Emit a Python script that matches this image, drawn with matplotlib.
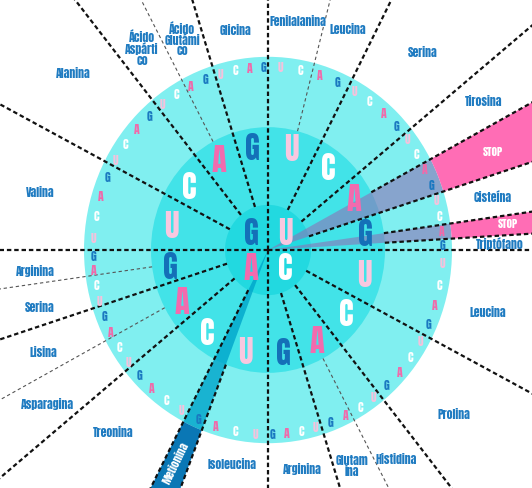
import numpy as np
import matplotlib
matplotlib.use("Agg")
import matplotlib.pyplot as plt
from matplotlib.patches import Circle, Wedge
from matplotlib import font_manager as fm

# ---------------- data ----------------
bases = ["U", "C", "A", "G"]
# amino acid of each codon, ordered first base (U,C,A,G) > second > third
codon_aa = (
    ["Fenilalanina"] * 2 + ["Leucina"] * 2 + ["Serina"] * 4 +
    ["Tirosina"] * 2 + ["STOP"] * 2 + ["Cisteína"] * 2 + ["STOP"] + ["Triptófano"] +
    ["Leucina"] * 4 + ["Prolina"] * 4 + ["Histidina"] * 2 + ["Glutamina"] * 2 + ["Arginina"] * 4 +
    ["Isoleucina"] * 3 + ["Metionina"] + ["Treonina"] * 4 + ["Asparagina"] * 2 + ["Lisina"] * 2 +
    ["Serina"] * 2 + ["Arginina"] * 2 +
    ["Valina"] * 4 + ["Alanina"] * 4 + ["Ácido Aspártico"] * 2 + ["Ácido Glutámico"] * 2 + ["Glicina"] * 4
)
display_names = {
    "Ácido Aspártico": "Ácido\nAspárti\nco",
    "Ácido Glutámico": "Ácido\nGlutámi\nco",
    "Glutamina": "Glutam\nina",
}

# ---------------- layout / style ----------------
W, H = 532, 489
CX, CY = 268, 251          # wheel centre in pixels
K = 1.05                   # vertical stretch of the picture
R_IN, R_MID, R_OUT = 43, 117, 184
R_OUT_TXT, R_MID_TXT, R_IN_TXT = 175, 99, 24

col_outer, col_mid, col_inner = "#80EFF0", "#42E3E8", "#22D9E0"
letter_col_big = {"U": "#F8C8E0", "C": "#FFFFFF", "A": "#F26BAE", "G": "#1470B8"}
letter_col_small = {"U": "#F5C2DC", "C": "#FFFFFF", "A": "#F06AAA", "G": "#1A78C0"}
label_col = "#1F7BC1"

_avail = {f.name for f in fm.fontManager.ttflist}
_cands = ["Anton", "Oswald", "League Gothic", "Fjalla One", "Roboto Condensed",
          "Liberation Sans Narrow"]
_chosen = [c for c in _cands if c in _avail][:1]
FONT = _chosen + ["DejaVu Sans"]
WEIGHT = "normal" if _chosen and _chosen[0] in ("Anton", "League Gothic", "Fjalla One") else "bold"

# label anchor points (pixels), in the order of the amino-acid runs
label_px = [(298, 22), (348, 30), (423, 53), (484, 102), (493, 152), (493, 197),
            (508, 224), (500, 244), (488, 313), (454, 415), (396, 460), (352, 466),
            (302, 469), (232, 465), (176, 463), (113, 433), (47, 404), (43, 353),
            (40, 308), (35, 271), (40, 193), (73, 74), (142, 48), (182, 39), (236, 31)]


def px(x, y):
    return x - CX, (CY - y) / K


def warp(theta, amp):
    """slight clockwise skew of the hand-drawn wheel inside each quadrant"""
    f = (theta % 90) / 90.0
    return theta + amp * np.sin(np.pi * f) ** 0.6


def pol(r, theta):
    t = np.radians(theta)
    return r * np.sin(t), r * np.cos(t)


fig = plt.figure(figsize=(W / 100, H / 100), dpi=100)
ax = fig.add_axes([0, 0, 1, 1])
ax.set_xlim(-CX, W - CX)
ax.set_ylim(-(H - CY) / K, CY / K)
ax.axis("off")

# discs
ax.add_patch(Circle((0, 0), R_OUT, color=col_outer, zorder=1, lw=0))
ax.add_patch(Circle((0, 0), R_MID, color=col_mid, zorder=1, lw=0))
ax.add_patch(Circle((0, 0), R_IN, color=col_inner, zorder=1, lw=0))

step = 360 / len(codon_aa)
AMP = 6.0

# runs of identical amino acids
runs = []
start = 0
for k in range(1, len(codon_aa) + 1):
    if k == len(codon_aa) or codon_aa[k] != codon_aa[start] or k % 16 == 0:
        runs.append((codon_aa[start], start, k))
        start = k

# wedges for stop codons and methionine
for name, a, b in runs:
    if name not in ("STOP", "Metionina"):
        continue
    c1, c2 = warp(a * step, AMP), warp(b * step, AMP)
    if name == "STOP":
        solid, over, alpha = "#FF6DB5", "#8C73B6", 0.6
    else:
        solid, over, alpha = "#0A77B5", "#00A5CA", 0.8
    ax.add_patch(Wedge((0, 0), R_OUT, 90 - c2, 90 - c1, color=over, alpha=alpha, lw=0, zorder=2))
    ax.add_patch(Wedge((0, 0), 900, 90 - c2, 90 - c1, width=900 - R_OUT, color=solid, lw=0, zorder=2))

# dashed separators
for k in range(len(codon_aa)):
    prev = codon_aa[k - 1]
    if codon_aa[k] == prev:
        continue
    th = warp(k * step, AMP)
    if k % 16 == 0:
        r0, color, lw, ds = 0, "#111111", 1.6, (2, 1.3)
    elif k % 4 == 0:
        r0, color, lw, ds = R_IN, "#111111", 1.6, (2, 1.3)
    elif {"STOP", "Metionina"} & {prev, codon_aa[k]}:
        r0, color, lw, ds = R_MID, "#111111", 1.6, (2, 1.3)
    else:
        r0, color, lw, ds = R_MID, "#555555", 0.8, (3, 2.5)
    x0, y0 = pol(r0, th)
    x1, y1 = pol(900, th)
    ax.plot([x0, x1], [y0, y1], color=color, lw=lw, ls=(0, ds), zorder=3,
            solid_capstyle="butt", dash_capstyle="butt")

# inner letters (first base)
for i, b in enumerate(bases):
    x, y = pol(R_IN_TXT, 45 + 90 * i)
    ax.text(x, y, b, color=letter_col_big[b], fontsize=22, fontweight=WEIGHT,
            family=FONT, ha="center", va="center", zorder=5)

# middle letters (second base)
for q in range(4):
    for j, b in enumerate(bases):
        th = warp(q * 90 + (j + 0.5) * 22.5, 4.0)
        x, y = pol(R_MID_TXT, th)
        ax.text(x, y, b, color=letter_col_big[b], fontsize=22, fontweight=WEIGHT,
                family=FONT, ha="center", va="center", zorder=5)

# outer letters (third base)
for k in range(len(codon_aa)):
    b = bases[k % 4]
    th = warp((k + 0.5) * step, 5.0)
    x, y = pol(R_OUT_TXT, th)
    ax.text(x, y, b, color=letter_col_small[b], fontsize=8.5, fontweight=WEIGHT,
            family=FONT, ha="center", va="center", zorder=5)

# amino acid labels
for (name, a, b), (lx, ly) in zip(runs, label_px):
    x, y = px(lx, ly)
    if name == "STOP":
        ax.text(x, y, "STOP", color="white", fontsize=8, fontweight=WEIGHT,
                family=FONT, ha="center", va="center", zorder=6)
    elif name == "Metionina":
        ax.text(x, y, name, color="white", fontsize=8, fontweight=WEIGHT, rotation=64,
                family=FONT, ha="center", va="center", zorder=6)
    else:
        ax.text(x, y, display_names.get(name, name), color=label_col, fontsize=8.5,
                fontweight=WEIGHT, family=FONT, ha="center", va="center",
                linespacing=0.95, zorder=6)

fig.savefig("out.png", dpi=100)
